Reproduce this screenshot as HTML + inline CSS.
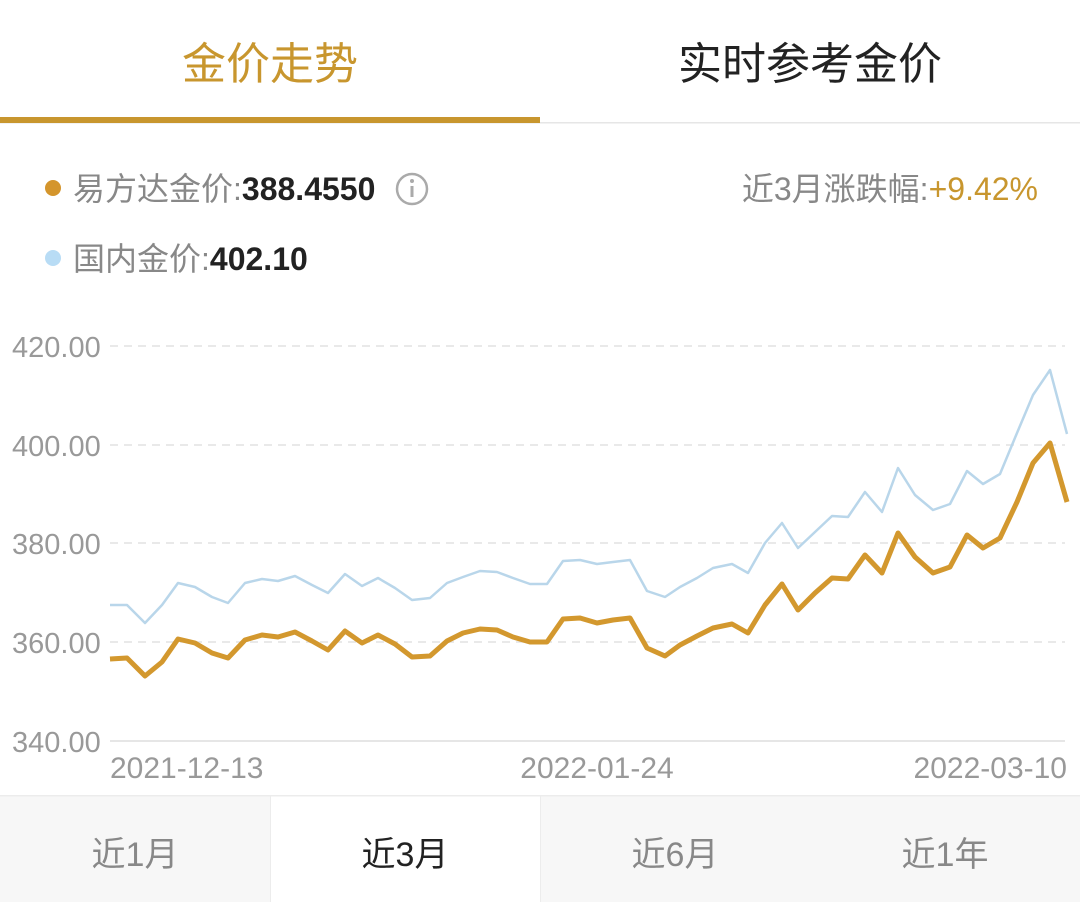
<!DOCTYPE html>
<html><head><meta charset="utf-8"><style>
html,body{margin:0;padding:0;background:#fff;width:1080px;height:923px;overflow:hidden}
svg text{font-family:"Liberation Sans","Noto Sans CJK SC",sans-serif}
</style></head><body>
<svg width="1080" height="923" viewBox="0 0 1080 923" xmlns="http://www.w3.org/2000/svg">
<rect width="1080" height="923" fill="#fff"/>
<text x="270" y="79" font-size="44" fill="#c8962e" text-anchor="middle">金价走势</text>
<text x="810" y="79" font-size="44" fill="#222" text-anchor="middle">实时参考金价</text>
<rect x="0" y="122" width="1080" height="1.5" fill="#e6e6e6"/>
<rect x="0" y="117" width="540" height="6" fill="#c8962e"/>
<circle cx="53" cy="188" r="8" fill="#d4952c"/>
<text x="73" y="200" font-size="32" fill="#888">易方达金价:<tspan fill="#222" font-weight="bold">388.4550</tspan></text>
<circle cx="412" cy="189" r="15" fill="none" stroke="#aaa" stroke-width="2.5"/>
<rect x="410.5" y="186" width="3" height="11" fill="#aaa"/>
<circle cx="412" cy="181" r="2" fill="#aaa"/>
<text x="1038" y="200" font-size="32" fill="#888" text-anchor="end">近3月涨跌幅:<tspan fill="#c8962e">+9.42%</tspan></text>
<circle cx="53" cy="258" r="8" fill="#b8dcf5"/>
<text x="73" y="270" font-size="32" fill="#888">国内金价:<tspan fill="#222" font-weight="bold">402.10</tspan></text>
<g stroke="#e2e2e2" stroke-width="1.5" stroke-dasharray="8,6">
<line x1="110" y1="346" x2="1065" y2="346"/>
<line x1="110" y1="445" x2="1065" y2="445"/>
<line x1="110" y1="543" x2="1065" y2="543"/>
<line x1="110" y1="642" x2="1065" y2="642"/>
</g>
<line x1="110" y1="741" x2="1065" y2="741" stroke="#ddd" stroke-width="1.5"/>
<g font-size="29" fill="#999">
<text x="12" y="357">420.00</text>
<text x="12" y="456">400.00</text>
<text x="12" y="554">380.00</text>
<text x="12" y="653">360.00</text>
<text x="12" y="752">340.00</text>
</g>
<g font-size="30" fill="#999">
<text x="110" y="778">2021-12-13</text>
<text x="597" y="778" text-anchor="middle">2022-01-24</text>
<text x="1067" y="778" text-anchor="end">2022-03-10</text>
</g>
<polyline fill="none" stroke="#b9d6ea" stroke-width="2.5" stroke-linejoin="round" points="110,605 127,605 145,623 162,605 178,583 195,587 212,597 228,603 245,583 262,579 278,581 295,576 312,585 328,593 345,574 362,586 378,578 395,588 412,600 430,598 447,583 463,577 480,571 497,572 513,578 530,584 547,584 563,561 580,560 597,564 613,562 630,560 647,591 665,597 680,587 697,578 713,568 732,564 748,573 765,543 782,523 798,548 815,532 832,516 848,517 865,492 882,512 898,468 915,495 933,510 950,504 967,471 983,484 1000,474 1017,433 1033,395 1050,370 1067,434"/>
<polyline fill="none" stroke="#d3982e" stroke-width="5" stroke-linejoin="round" points="110,659 127,658 145,676 162,662 178,639 195,643 212,653 228,658 245,640 262,635 278,637 295,632 312,641 328,650 345,631 362,643 378,635 395,644 412,657 430,656 447,641 463,633 480,629 497,630 513,637 530,642 547,642 563,619 580,618 597,623 613,620 630,618 647,648 665,656 680,645 697,636 713,628 732,624 748,633 765,605 782,584 798,610 815,593 832,578 848,579 865,555 882,573 898,533 915,557 933,573 950,567 967,535 983,548 1000,538 1017,502 1033,463 1050,443 1067,502"/>
<rect x="0" y="796" width="270" height="106" fill="#f7f7f7"/>
<rect x="540" y="796" width="540" height="106" fill="#f7f7f7"/>
<rect x="0" y="795" width="1080" height="1.5" fill="#ececec"/>
<rect x="270" y="796" width="1" height="106" fill="#ececec"/>
<rect x="540" y="796" width="1" height="106" fill="#ececec"/>
<g font-size="34" text-anchor="middle">
<text x="135" y="866" fill="#888">近1月</text>
<text x="405" y="866" fill="#222">近3月</text>
<text x="675" y="866" fill="#888">近6月</text>
<text x="945" y="866" fill="#888">近1年</text>
</g>
</svg>
</body></html>
